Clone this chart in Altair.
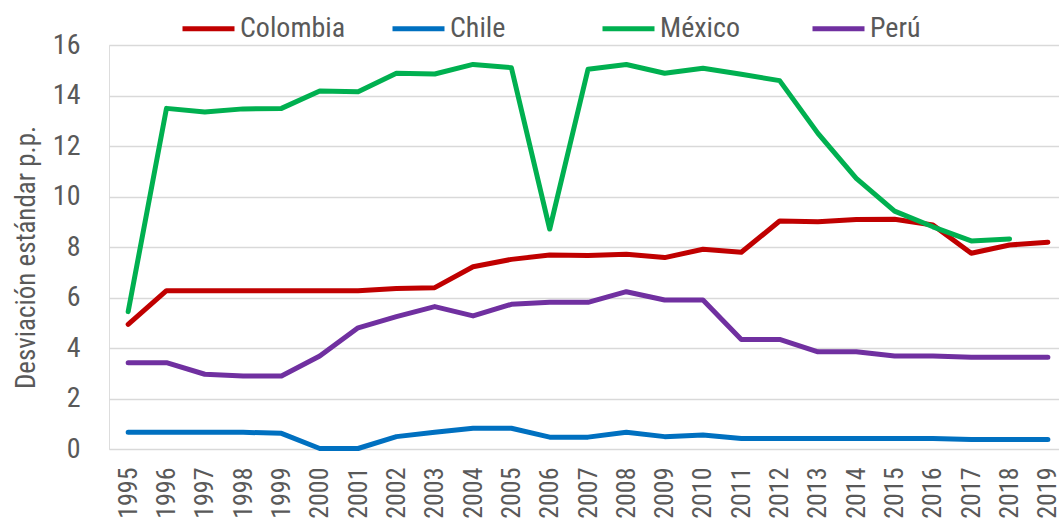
import altair as alt
import pandas as pd

years = list(range(1995, 2020))
colombia = [4.94, 6.27, 6.27, 6.27, 6.27, 6.27, 6.27, 6.36, 6.39, 7.22, 7.51, 7.68, 7.66, 7.71, 7.58,
            7.91, 7.79, 9.03, 9.00, 9.09, 9.10, 8.87, 7.75, 8.08, 8.19]
chile = [0.66, 0.66, 0.66, 0.66, 0.62, 0.02, 0.02, 0.49, 0.66, 0.82, 0.82, 0.47, 0.47, 0.66, 0.49,
         0.55, 0.42, 0.42, 0.42, 0.42, 0.42, 0.42, 0.38, 0.38, 0.38]
mexico = [5.44, 13.49, 13.35, 13.47, 13.49, 14.18, 14.15, 14.88, 14.85, 15.23, 15.10, 8.71, 15.04, 15.23, 14.88,
          15.08, 14.84, 14.59, 12.50, 10.72, 9.42, 8.80, 8.24, 8.32, None]
peru = [3.42, 3.42, 2.96, 2.89, 2.89, 3.68, 4.80, 5.24, 5.64, 5.27, 5.73, 5.81, 5.81, 6.23, 5.90,
        5.90, 4.34, 4.34, 3.85, 3.85, 3.68, 3.68, 3.63, 3.63, 3.63]

series = ["Colombia", "Chile", "México", "Perú"]
colors = ["#C00000", "#0070C0", "#00B050", "#7030A0"]

rows = []
for name, vals in zip(series, [colombia, chile, mexico, peru]):
    for y, v in zip(years, vals):
        if v is not None:
            rows.append({"year": y, "serie": name, "valor": v})
df = pd.DataFrame(rows)

FONT = "Liberation Sans Narrow, Arial Narrow, Roboto Condensed, Liberation Sans, sans-serif"
TXT = "#595959"

chart = alt.Chart(df).mark_line(strokeWidth=5, strokeJoin="round", strokeCap="round").encode(
    x=alt.X("year:Q", scale=alt.Scale(domain=[1994.5, 2019.29], nice=False, zero=False),
            axis=alt.Axis(values=years, format="d", labelAngle=-90, labelAlign="right",
                          labelBaseline="middle", labelPadding=18, labelFontSize=26,
                          labelColor=TXT, labelFont=FONT, grid=False, domain=False, ticks=False,
                          title=None, labelOverlap=False, labelFlush=False)),
    y=alt.Y("valor:Q", scale=alt.Scale(domain=[0, 16], nice=False),
            axis=alt.Axis(values=[0, 2, 4, 6, 8, 10, 12, 14, 16], labelFontSize=28, labelColor=TXT,
                          labelFont=FONT, labelPadding=29, grid=True, gridColor="#D9D9D9",
                          gridWidth=1.5, domain=False, ticks=False,
                          title="Desviación estándar p.p.", titleFont=FONT, titleFontSize=27,
                          titleFontWeight="normal", titleColor=TXT, titleAngle=-90,
                          titleX=-83, titleY=212, titleAlign="center", titleBaseline="middle")),
    color=alt.Color("serie:N", scale=alt.Scale(domain=series, range=colors),
                    legend=alt.Legend(title=None, orient="none", legendX=71, legendY=-45,
                                      direction="horizontal", symbolType="stroke",
                                      symbolSize=2704, symbolStrokeWidth=5, labelFont=FONT,
                                      labelFontSize=28, labelColor=TXT, columnPadding=36,
                                      gridAlign="all", labelOffset=3)),
    order=alt.Order("year:Q"),
).properties(
    width=950, height=404,
    autosize=alt.AutoSizeParams(type="none"),
    padding={"left": 109, "top": 45, "right": 0, "bottom": 76},
).configure_view(stroke=None).configure(background="white")

chart.save("out.html", embed_options={"renderer": "svg", "actions": False})
